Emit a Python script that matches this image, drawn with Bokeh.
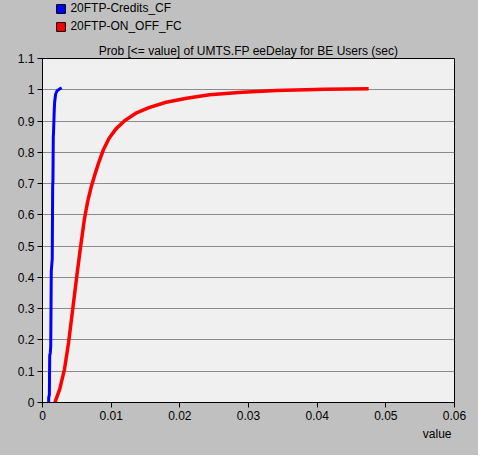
from bokeh.plotting import figure
from bokeh.layouts import column
from bokeh.models import Range1d, FixedTicker, Legend, LegendItem, Title, NumeralTickFormatter
from bokeh.embed import file_html
from bokeh.resources import INLINE

title_text = "Prob [<= value] of UMTS.FP eeDelay for BE Users (sec)"
x_label = "value"
series_names = ["20FTP-Credits_CF", "20FTP-ON_OFF_FC"]
series_colors = ["#0000ff", "#ff0000"]

credits_x = [0.0009, 0.0009, 0.0010, 0.00105, 0.00114, 0.0012, 0.00128, 0.00135, 0.00142,
             0.00148, 0.00152, 0.00157, 0.0016, 0.00172, 0.00177, 0.0019, 0.0021, 0.0025, 0.0028]
credits_y = [0.0, 0.015, 0.025, 0.15, 0.16, 0.18, 0.42, 0.44, 0.46,
             0.69, 0.71, 0.85, 0.86, 0.94, 0.96, 0.985, 0.996, 1.003, 1.006]

onoff_x = [0.0018, 0.0025, 0.0032, 0.0038, 0.0044, 0.0050, 0.0055, 0.0061, 0.0066, 0.0071,
           0.0076, 0.0082, 0.0089, 0.0097, 0.0107, 0.0120, 0.0136, 0.0155, 0.0180, 0.0210,
           0.0243, 0.0291, 0.0340, 0.0412, 0.0475]
onoff_y = [0.0, 0.042, 0.106, 0.192, 0.298, 0.405, 0.49, 0.586, 0.645, 0.69,
           0.727, 0.768, 0.810, 0.845, 0.875, 0.902, 0.925, 0.943, 0.960, 0.973,
           0.984, 0.992, 0.998, 1.002, 1.003]

x_ticks = [0, 0.01, 0.02, 0.03, 0.04, 0.05, 0.06]
x_tick_labels = ["0", "0.01", "0.02", "0.03", "0.04", "0.05", "0.06"]
y_ticks = [0, 0.1, 0.2, 0.3, 0.4, 0.5, 0.6, 0.7, 0.8, 0.9, 1, 1.1]
y_tick_labels = ["0", "0.1", "0.2", "0.3", "0.4", "0.5", "0.6", "0.7", "0.8", "0.9", "1", "1.1"]

FONT = "Liberation Sans"
GRAY = "#c0c0c0"
X_RANGE = (0, 0.06)
Y_RANGE = (0, 1.1)

# --- legend strip (top of the gray panel), same frame as the chart ---
lg = figure(width=478, height=40, x_range=Range1d(*X_RANGE), y_range=Range1d(*Y_RANGE),
            output_backend="svg", toolbar_location=None,
            x_axis_location=None, y_axis_location=None,
            min_border_left=42, min_border_right=24, min_border_top=0, min_border_bottom=0,
            background_fill_color=None, border_fill_color=None, outline_line_color=None)
lg.grid.visible = False

leg_r = []
for c, xs, ys in zip(series_colors, (credits_x, onoff_x), (credits_y, onoff_y)):
    # hidden renderers that only supply the legend swatches
    leg_r.append(lg.quad(left=xs, right=xs, top=ys, bottom=ys, fill_color=c,
                         line_color="black", line_width=1, visible=False))

legend = Legend(items=[LegendItem(label=n, renderers=[r]) for n, r in zip(series_names, leg_r)],
                location=(13.4, 7), orientation="vertical", padding=0, margin=0,
                border_line_color=None, background_fill_alpha=0, inactive_fill_alpha=0,
                glyph_width=11, glyph_height=11, label_standoff=4, spacing=4,
                label_height=11, label_text_font=FONT, label_text_font_size="12px",
                label_text_color="black")
lg.add_layout(legend)

# --- main chart ---
p = figure(width=478, height=415,
           x_range=Range1d(*X_RANGE), y_range=Range1d(*Y_RANGE),
           output_backend="svg", toolbar_location=None,
           min_border_left=42, min_border_right=24, min_border_top=18, min_border_bottom=53,
           background_fill_color="#f0f0f0", border_fill_color=GRAY)
p.outline_line_color = "black"
p.outline_line_width = 1
p.xgrid.visible = False
p.ygrid.ticker = FixedTicker(ticks=y_ticks)
p.ygrid.grid_line_color = "#8c8c8c"
p.ygrid.grid_line_width = 1

for ax, ticks, labels in ((p.xaxis[0], x_ticks, x_tick_labels), (p.yaxis[0], y_ticks, y_tick_labels)):
    ax.ticker = FixedTicker(ticks=ticks)
    ax.formatter = NumeralTickFormatter(format="0.[00]")
    ax.major_label_overrides = dict(zip(ticks, labels))
    ax.minor_tick_line_color = None
    ax.major_tick_in = 0
    ax.major_tick_out = 5
    ax.major_tick_line_color = "black"
    ax.axis_line_color = "black"
    ax.major_label_standoff = 3
    ax.major_label_text_font = FONT
    ax.major_label_text_font_size = "12px"
    ax.major_label_text_color = "black"

p.line(credits_x, credits_y, line_color=series_colors[0], line_width=3)
p.line(onoff_x, onoff_y, line_color=series_colors[1], line_width=3.5)

p.title.text = title_text
p.title.align = "center"
p.title.text_font = FONT
p.title.text_font_size = "12px"
p.title.text_font_style = "normal"
p.title.text_color = "black"
p.title.standoff = 2

p.add_layout(Title(text=x_label, align="right", offset=3, standoff=4, text_font=FONT,
                   text_font_size="12px", text_font_style="normal", text_color="black"), "below")

layout = column(lg, p, spacing=0, styles={"background-color": GRAY})
open("out.html", "w").write(file_html(layout, INLINE))
